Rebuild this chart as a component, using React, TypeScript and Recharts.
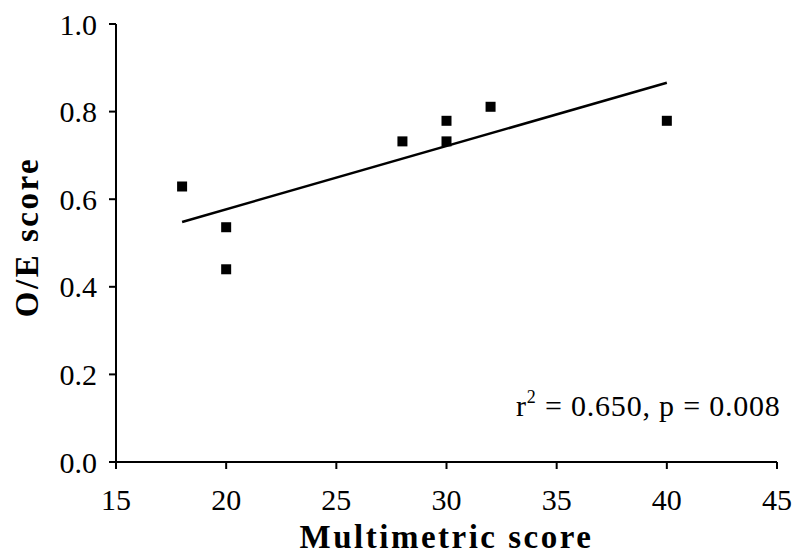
import { ScatterChart, Scatter, XAxis, YAxis, Customized } from "recharts";

const multimetric = [18, 20, 20, 28, 30, 30, 32, 40];
const oeScore = [0.629, 0.536, 0.44, 0.732, 0.779, 0.732, 0.811, 0.779];

const fitX = [18, 40];
const fitY = [0.548, 0.866];

const xTicks = [15, 20, 25, 30, 35, 40, 45];
const yTicks = [0, 0.2, 0.4, 0.6, 0.8, 1.0];

const points = multimetric.map((x, i) => ({ x, y: oeScore[i] }));
const fitLine = fitX.map((x, i) => ({ x, y: fitY[i] }));

const FONT = "'Liberation Serif', 'Times New Roman', serif";

const Square = (props: any) => {
  const { cx, cy } = props;
  if (cx == null || cy == null) return null;
  return <rect x={cx - 5} y={cy - 5} width={10} height={10} fill="#000" />;
};

const NoDot = () => null;

const YLabel = () => (
  <text
    transform="translate(38, 237) rotate(-90)"
    textAnchor="middle"
    fontFamily={FONT}
    fontWeight="bold"
    fontSize={33}
    letterSpacing={2.5}
    fill="#000"
  >
    O/E score
  </text>
);

const Annotation = () => (
  <text x={516} y={416} fontFamily={FONT} fontSize={30} fill="#000" letterSpacing={0.8}>
    <tspan>r</tspan>
    <tspan fontSize={18} dy={-13}>2</tspan>
    <tspan dy={13}> = 0.650, p = 0.008</tspan>
  </text>
);

export default function App() {
  return (
    <div style={{ position: "absolute", left: 0, top: 0, background: "#fff" }}>
      <ScatterChart
        width={793}
        height={556}
        margin={{ top: 24, right: 16, left: 0, bottom: 0 }}
      >
        <XAxis
          type="number"
          dataKey="x"
          domain={[15, 45]}
          ticks={xTicks}
          allowDataOverflow
          height={94}
          tickSize={7}
          tickMargin={20}
          stroke="#000"
          strokeWidth={2}
          tick={{ fill: "#000", fontSize: 30, fontFamily: FONT }}
          label={{
            value: "Multimetric score",
            position: "insideBottom",
            offset: 8,
            fill: "#000",
            fontSize: 33,
            fontWeight: "bold",
            fontFamily: FONT,
            letterSpacing: 2.5,
          }}
        />
        <YAxis
          type="number"
          dataKey="y"
          domain={[0, 1]}
          ticks={yTicks}
          allowDataOverflow
          width={116}
          tickSize={7}
          tickMargin={12}
          stroke="#000"
          strokeWidth={2}
          tickFormatter={(v: number) => v.toFixed(1)}
          tick={{ fill: "#000", fontSize: 30, fontFamily: FONT }}
        />
        <Scatter
          data={fitLine}
          line={{ stroke: "#000", strokeWidth: 2.5 }}
          shape={NoDot}
          isAnimationActive={false}
        />
        <Scatter data={points} shape={Square} isAnimationActive={false} />
        <Customized component={YLabel} />
        <Customized component={Annotation} />
      </ScatterChart>
    </div>
  );
}
